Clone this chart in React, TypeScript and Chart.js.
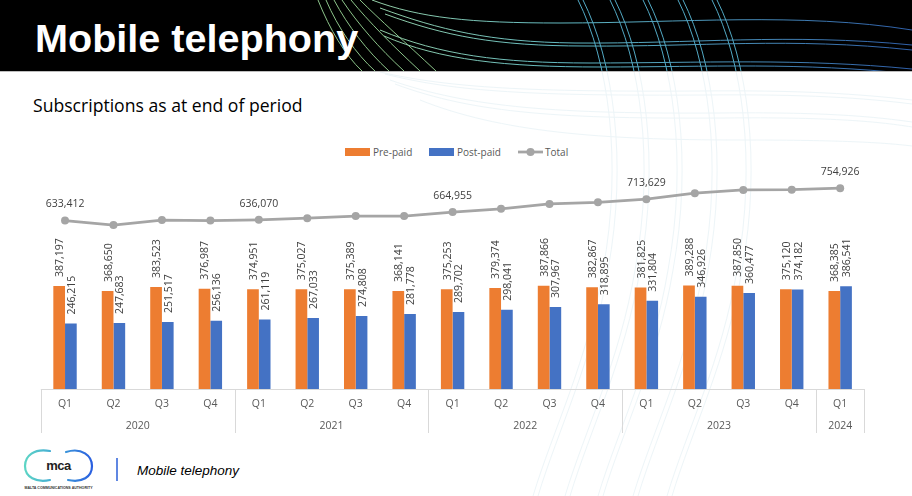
import React, { useEffect, useRef } from 'react';
import { Chart, registerables } from 'chart.js';

Chart.register(...registerables);

const W = 912;
const H = 496;

const quarters = ['Q1', 'Q2', 'Q3', 'Q4', 'Q1', 'Q2', 'Q3', 'Q4', 'Q1', 'Q2', 'Q3', 'Q4', 'Q1', 'Q2', 'Q3', 'Q4', 'Q1'];
const years = ['2020', '2021', '2022', '2023', '2024'];
const yearSpans = [4, 4, 4, 4, 1];

const prePaid = [387197, 368650, 383523, 376987, 374951, 375027, 375389, 368141, 375253, 379374, 387866, 382867, 381825, 389288, 387850, 375120, 368385];
const postPaid = [246215, 247683, 251517, 256136, 261119, 267033, 274808, 281778, 289702, 298041, 307967, 318895, 331804, 346926, 360477, 374182, 386541];
const total = [633412, 616333, 635040, 633123, 636070, 642060, 650197, 649919, 664955, 677415, 695833, 701762, 713629, 736214, 748327, 749302, 754926];
const totalLabelIdx = [0, 4, 8, 12, 16];

const ORANGE = '#ED7D31';
const BLUE = '#4472C4';
const GRAY = '#A5A5A5';
const FONT = '"Open Sans", "Liberation Sans", sans-serif';

const fmt = (v: number) => v.toLocaleString('en-US');

const axisPlugin = {
  id: 'customAxisLabels',
  afterDatasetsDraw(chart: any) {
    const { ctx, chartArea, scales } = chart;
    const { left, right, bottom } = chartArea;
    const x = scales.x;
    const step = x.getPixelForValue(1) - x.getPixelForValue(0);
    ctx.save();
    ctx.strokeStyle = '#D9D9D9';
    ctx.lineWidth = 1;
    ctx.beginPath();
    ctx.moveTo(left, Math.round(bottom) + 0.5);
    ctx.lineTo(right, Math.round(bottom) + 0.5);
    ctx.stroke();

    const bounds: number[] = [0];
    let acc = 0;
    yearSpans.forEach((s) => {
      acc += s;
      bounds.push(acc);
    });
    bounds.forEach((b) => {
      const px = Math.round(x.getPixelForValue(b) - step / 2) + 0.5;
      ctx.beginPath();
      ctx.moveTo(px, bottom);
      ctx.lineTo(px, bottom + 44);
      ctx.stroke();
    });

    ctx.fillStyle = '#595959';
    ctx.font = `10.5px ${FONT}`;
    ctx.textAlign = 'center';
    ctx.textBaseline = 'middle';
    quarters.forEach((q, i) => ctx.fillText(q, x.getPixelForValue(i), bottom + 15));
    let start = 0;
    years.forEach((yr, k) => {
      const end = start + yearSpans[k] - 1;
      const cx = (x.getPixelForValue(start) + x.getPixelForValue(end)) / 2;
      ctx.fillText(yr, cx, bottom + 37);
      start += yearSpans[k];
    });

    ctx.fillStyle = '#404040';
    const series = [prePaid, postPaid];
    [0, 1].forEach((di) => {
      const meta = chart.getDatasetMeta(di);
      meta.data.forEach((el: any, i: number) => {
        ctx.save();
        ctx.translate(el.x + 1, el.y - 9);
        ctx.rotate(-Math.PI / 2);
        ctx.textAlign = 'left';
        ctx.textBaseline = 'middle';
        ctx.fillText(fmt(series[di][i]), 0, 0);
        ctx.restore();
      });
    });

    const lm = chart.getDatasetMeta(2);
    ctx.textAlign = 'center';
    ctx.textBaseline = 'middle';
    totalLabelIdx.forEach((i) => {
      const el = lm.data[i];
      ctx.fillText(fmt(total[i]), el.x, el.y - 16);
    });
    ctx.restore();
  },
};

const vertXs = [578, 583, 610, 615, 643, 648, 678, 683, 712, 717];

export default function App() {
  const ref = useRef<HTMLCanvasElement>(null);

  useEffect(() => {
    const canvas = ref.current;
    if (!canvas) return;
    const chart = new Chart(canvas, {
      type: 'bar',
      data: {
        labels: quarters.map((q, i) => q + '-' + i),
        datasets: [
          { type: 'bar', label: 'Pre-paid', data: prePaid, backgroundColor: ORANGE, categoryPercentage: 0.483, barPercentage: 1, order: 2 },
          { type: 'bar', label: 'Post-paid', data: postPaid, backgroundColor: BLUE, categoryPercentage: 0.483, barPercentage: 1, order: 2 },
          {
            type: 'line',
            label: 'Total',
            data: total,
            borderColor: GRAY,
            backgroundColor: GRAY,
            borderWidth: 2.75,
            pointRadius: 4,
            pointBorderWidth: 0,
            pointBackgroundColor: GRAY,
            tension: 0,
            order: 1,
          },
        ],
      } as any,
      options: {
        responsive: false,
        animation: false,
        layout: { padding: { left: 40.8, right: 47.6, top: 149.6, bottom: 107 } },
        plugins: { legend: { display: false }, tooltip: { enabled: false }, title: { display: false } },
        scales: {
          x: { display: false },
          y: { display: false, min: 0, max: 900000 },
        },
      } as any,
      plugins: [axisPlugin],
    });
    return () => chart.destroy();
  }, []);

  return (
    <div style={{ position: 'fixed', left: 0, top: 0, width: W, height: H, background: '#fff', overflow: 'hidden' }}>
      <svg width={W} height={H} style={{ position: 'absolute', left: 0, top: 0 }}>
        <defs>
          <linearGradient id="hg" gradientUnits="userSpaceOnUse" x1="300" y1="0" x2="912" y2="0">
            <stop offset="0" stopColor="#a6d59a" />
            <stop offset="0.45" stopColor="#5fb8c4" />
            <stop offset="1" stopColor="#2f5fa8" />
          </linearGradient>
          <linearGradient id="lg" gradientUnits="userSpaceOnUse" x1="24" y1="0" x2="92" y2="0">
            <stop offset="0" stopColor="#5ed6c4" />
            <stop offset="0.5" stopColor="#3fa3d8" />
            <stop offset="1" stopColor="#2a5fe0" />
          </linearGradient>
          <clipPath id="hdr">
            <rect x="0" y="0" width={W} height="71" />
          </clipPath>
        </defs>
        {/* faint background curves in white area */}
        <g fill="none" stroke="#edf5f8" strokeWidth="1">
          <path d="M 380 72 C 450 88, 530 92, 700 91 C 800 90, 860 94, 912 100" />
          <path d="M 385 74 C 455 92, 535 96, 705 95 C 805 94, 865 98, 912 104" />
          <path d="M 390 80 C 470 108, 560 114, 720 113 C 820 112, 870 116, 912 122" />
          <path d="M 395 84 C 475 114, 565 119, 725 118 C 825 117, 875 121, 912 127" />
          <path d="M 420 100 C 500 132, 600 140, 740 140 C 830 140, 880 142, 912 146" />
          {vertXs.map((x0, i) => (
            <path key={'fv' + i} d={`M ${x0} 0 C ${x0 + 30} 60, ${x0 + 45} 160, ${x0 + 25} 270 C ${x0 + 10} 360, ${x0 - 25} 430, ${x0 - 45} 496`} />
          ))}
        </g>
        {/* header */}
        <rect x="0" y="0" width={W} height="71" fill="#000" />
        <line x1="0" y1="71.5" x2={W} y2="71.5" stroke="#bdbdbd" strokeWidth="1" />
        <g clipPath="url(#hdr)" fill="none" strokeWidth="1">
          <g stroke="#8cc48a">
            <path d="M 318 0 C 330 30, 345 55, 362 71" />
            <path d="M 326 0 C 338 28, 356 54, 375 71" />
            <path d="M 334 0 C 348 26, 367 51, 389 71" />
            <path d="M 342 0 C 358 24, 379 48, 404 71" />
            <path d="M 351 0 C 369 22, 392 45, 420 71" />
            <path d="M 360 0 C 380 20, 405 42, 436 71" />
          </g>
          <g stroke="url(#hg)">
            <path d="M 372 0 C 420 18, 470 23, 560 23 C 680 23, 800 12, 912 30" />
            <path d="M 380 8 C 440 30, 490 42, 575 43 C 690 44, 790 33, 912 45" />
            <path d="M 385 14 C 445 36, 495 46, 585 46 C 700 47, 790 37, 912 50" />
            <path d="M 380 30 C 440 55, 500 63, 590 63 C 700 63, 800 58, 912 69" />
            <path d="M 384 36 C 440 60, 505 67, 600 67 C 710 67, 800 62, 912 74" />
          </g>
          <g stroke="#52a9c4">
            {vertXs.map((x0, i) => (
              <path key={'hv' + i} d={`M ${x0} 0 C ${x0 + 30} 60, ${x0 + 45} 160, ${x0 + 25} 270`} />
            ))}
          </g>
        </g>
        <text x="35" y="52" fill="#fff" fontFamily='"Liberation Sans", Arial, sans-serif' fontWeight="bold" fontSize="39.6">Mobile telephony</text>
        <text x="33" y="112" fill="#000" fontFamily={FONT} fontSize="17.6">Subscriptions as at end of period</text>

        {/* legend */}
        <rect x="345" y="148" width="25" height="8" fill={ORANGE} />
        <text x="373" y="155.5" fill="#595959" fontFamily={FONT} fontSize="10">Pre-paid</text>
        <rect x="429" y="148" width="25" height="8" fill={BLUE} />
        <text x="457" y="155.5" fill="#595959" fontFamily={FONT} fontSize="10">Post-paid</text>
        <line x1="518" y1="152" x2="543" y2="152" stroke={GRAY} strokeWidth="2.75" />
        <circle cx="530.5" cy="152" r="4" fill={GRAY} />
        <text x="545" y="155.5" fill="#595959" fontFamily={FONT} fontSize="10">Total</text>

        {/* footer */}
        <g fill="none" stroke="url(#lg)" strokeWidth="2.2" strokeLinecap="round">
          <path d="M 50 451 C 34 448, 25 456, 25 466 C 25 477, 36 483, 50 480" />
          <path d="M 66 452 C 82 447, 92 456, 92 466 C 92 477, 82 483, 68 480" />
        </g>
        <text x="58.5" y="470" textAnchor="middle" fill="#222" fontFamily='"Liberation Sans", Arial, sans-serif' fontSize="13" fontWeight="bold" letterSpacing="-0.5">mca</text>
        <text x="58.5" y="489" textAnchor="middle" fill="#333" fontFamily='"Liberation Sans", Arial, sans-serif' fontSize="3.6" fontWeight="bold">MALTA COMMUNICATIONS AUTHORITY</text>
        <line x1="117" y1="458" x2="117" y2="481" stroke="#2b5fd9" strokeWidth="1.5" />
        <text x="137" y="475" fill="#000" fontFamily='"Liberation Sans", Arial, sans-serif' fontStyle="italic" fontSize="13.5">Mobile telephony</text>
      </svg>
      <canvas ref={ref} width={W} height={H} style={{ position: 'absolute', left: 0, top: 0 }} />
    </div>
  );
}
